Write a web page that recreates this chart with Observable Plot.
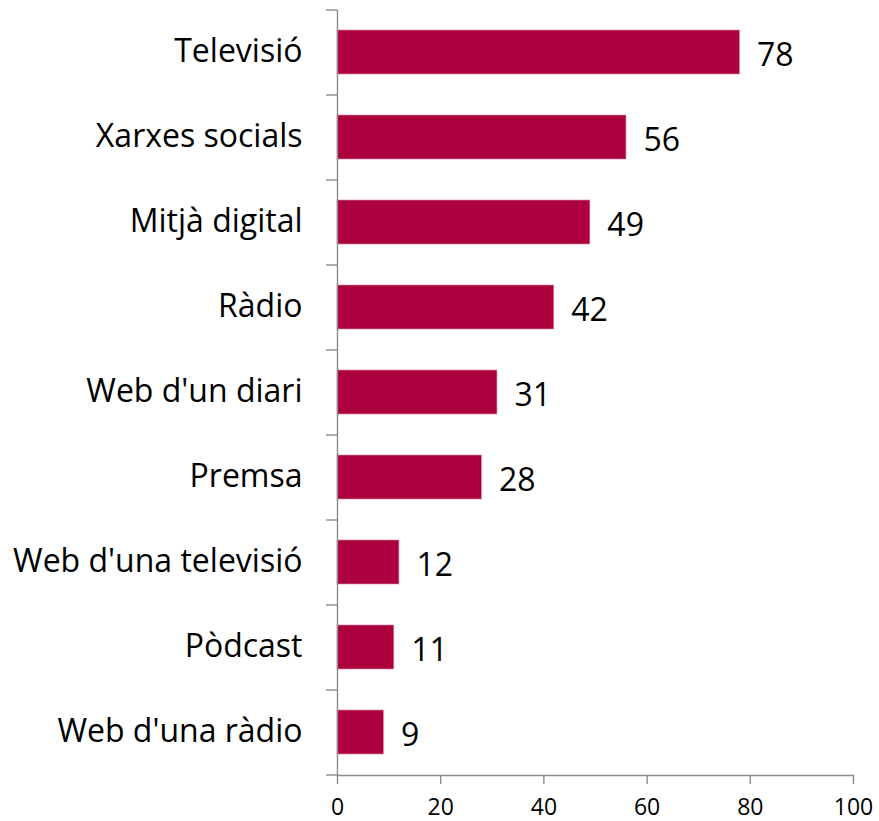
<!DOCTYPE html>
<html>
<head>
<meta charset="utf-8">
<script src="https://cdn.jsdelivr.net/npm/d3@7"></script>
<script src="https://cdn.jsdelivr.net/npm/@observablehq/plot@0.6"></script>
<style>
  html, body { margin: 0; padding: 0; background: #fff; }
  svg { display: block; }
</style>
</head>
<body>
<div id="chart"></div>
<script>
const categories = ["Televisió", "Xarxes socials", "Mitjà digital", "Ràdio", "Web d'un diari", "Premsa", "Web d'una televisió", "Pòdcast", "Web d'una ràdio"];
const values = [78, 56, 49, 42, 31, 28, 12, 11, 9];
const xTicks = [0, 20, 40, 60, 80, 100];

const data = categories.map((c, i) => ({category: c, value: values[i]}));

const W = 879, H = 821;
const mT = 10, mB = 46, mL = 337, mR = 26;
const step = (H - mT - mB) / categories.length;
const axisColor = "#8c8c8c";
const font = "'Open Sans', 'Noto Sans', sans-serif";

const chart = Plot.plot({
  width: W,
  height: H,
  marginTop: mT,
  marginBottom: mB,
  marginLeft: mL,
  marginRight: mR,
  style: {fontFamily: font, background: "#fff", color: "#000"},
  x: {domain: [0, 100], ticks: xTicks},
  y: {domain: categories, paddingInner: 0.48, paddingOuter: 0.24},
  marks: [
    Plot.barX(data, {y: "category", x: "value", fill: "#ad003f", stroke: "#d9899f", strokeWidth: 0.8, strokeOpacity: 0.8}),
    Plot.text(data, {y: "category", x: "value", text: d => String(d.value), textAnchor: "start", dx: 17, dy: 3, fontSize: 32, fill: "#000"}),
    Plot.ruleX([0], {stroke: axisColor, strokeWidth: 1.4}),
    Plot.frame({anchor: "bottom", stroke: axisColor, strokeWidth: 1.4}),
    Plot.axisY({tickSize: 0, tickPadding: 35, fontSize: 32, dy: -1, label: null, fill: "#000"}),
    Plot.axisY({tickSize: 11, text: null, dy: -step / 2, stroke: axisColor, strokeWidth: 1.4, label: null}),
    Plot.axisY([categories[categories.length - 1]], {tickSize: 11, text: null, dy: step / 2, stroke: axisColor, strokeWidth: 1.4, label: null}),
    Plot.axisX(xTicks, {tickSize: 9, tickPadding: 14, fontSize: 23, label: null, stroke: axisColor, strokeWidth: 1.4, fill: "#000"})
  ]
});
document.getElementById("chart").appendChild(chart);
</script>
</body>
</html>
